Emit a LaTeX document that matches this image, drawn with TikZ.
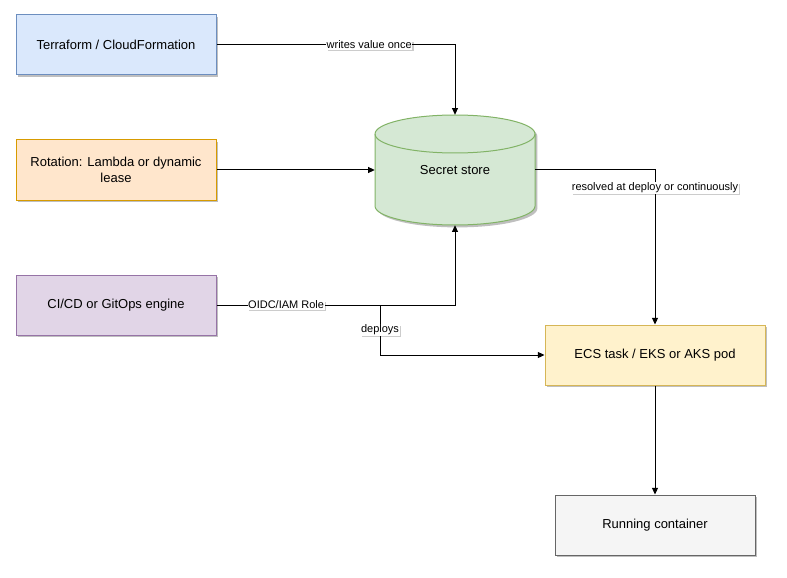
\documentclass[tikz,border=0pt]{standalone}
\usepackage{fontspec}
\setmainfont{Liberation Sans}
\usetikzlibrary{shadows,arrows.meta}
\definecolor{tfFill}{HTML}{DAE8FC}\definecolor{tfLine}{HTML}{6C8EBF}
\definecolor{rotFill}{HTML}{FFE6CC}\definecolor{rotLine}{HTML}{D79B00}
\definecolor{ciFill}{HTML}{E1D5E7}\definecolor{ciLine}{HTML}{9673A6}
\definecolor{ssFill}{HTML}{D5E8D4}\definecolor{ssLine}{HTML}{82B366}
\definecolor{ecsFill}{HTML}{FFF2CC}\definecolor{ecsLine}{HTML}{D6B656}
\definecolor{rcFill}{HTML}{F5F5F5}\definecolor{rcLine}{HTML}{666666}
\tikzset{
  boxstyle/.style={draw, line width=0.75pt, minimum width=150pt, minimum height=45pt, inner sep=0pt,
    font=\fontsize{9.75pt}{11.5pt}\selectfont, align=center,
    drop shadow={shadow xshift=1.8pt, shadow yshift=-1.8pt, opacity=0.25, fill=black}},
  edgelabel/.style={fill=white, inner sep=0.5pt, font=\fontsize{8.25pt}{10pt}\selectfont,
    drop shadow={shadow xshift=1.2pt, shadow yshift=-1.2pt, opacity=0.2, fill=black}},
  conn/.style={draw, line width=0.75pt, -{Triangle[length=5pt,width=4.5pt]}}
}
\begin{document}
\begin{tikzpicture}[x=0.75pt, y=-0.75pt]
\useasboundingbox (0,0) rectangle (787,577);
\node[boxstyle, fill=tfFill, draw=tfLine] (tf) at (116,45) {Terraform / CloudFormation};
\node[boxstyle, fill=rotFill, draw=rotLine] (rot) at (116,170) {Rotation: Lambda or dynamic\\lease};
\node[boxstyle, fill=ciFill, draw=ciLine] (ci) at (116,305) {CI/CD or GitOps engine};
\node[boxstyle, fill=ecsFill, draw=ecsLine, minimum width=165pt] (ecs) at (655,355) {ECS task / EKS or AKS pod};
\node[boxstyle, fill=rcFill, draw=rcLine] (rc) at (655,525) {Running container};
% cylinder
\fill[black, opacity=0.25, xshift=1.8pt, yshift=-1.8pt] (375,134) -- (375,206) arc[start angle=180, end angle=0, x radius=80, y radius=19] -- (535,134) arc[start angle=0, end angle=-180, x radius=80, y radius=19] -- cycle;
\draw[fill=ssFill, draw=ssLine, line width=0.75pt] (375,134) -- (375,206) arc[start angle=180, end angle=0, x radius=80, y radius=19] -- (535,134) arc[start angle=0, end angle=-180, x radius=80, y radius=19] -- cycle;
\draw[draw=ssLine, line width=0.75pt] (375,134) arc[start angle=180, end angle=0, x radius=80, y radius=19];
\node[minimum width=120pt, minimum height=82.5pt, inner sep=0pt, font=\fontsize{9.75pt}{11.5pt}\selectfont] (store) at (455,170) {Secret store};
% connectors
\coordinate (split) at (380,305);
\draw[conn] (tf.east) -| (store.north) node[pos=0.32, edgelabel] {writes value once};
\draw[conn] (rot.east) -- (store.west);
\draw[conn] (ci.east) -| (store.south) node[pos=0.146, edgelabel] {OIDC/IAM Role};
\draw[conn] (split) |- (ecs.west) node[pos=0.25, edgelabel] {deploys};
\draw[conn] (store.east) -| (ecs.north) node[pos=0.558, edgelabel] {resolved at deploy or continuously};
\draw[conn] (ecs.south) -- (rc.north);
\end{tikzpicture}
\end{document}
